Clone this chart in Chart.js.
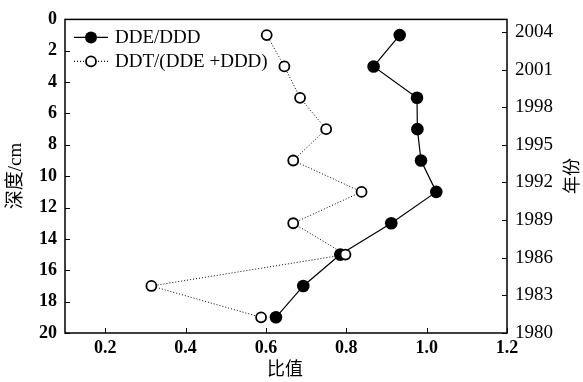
<!DOCTYPE html>
<html lang="zh">
<head>
<meta charset="UTF-8">
<title>DDE/DDD ratio profile</title>
<script src="https://cdn.jsdelivr.net/npm/chart.js@4.4.1/dist/chart.umd.min.js"></script>
<style>
  body { margin: 0; background: #fff; }
  #wrap { width: 583px; height: 382px; }
</style>
</head>
<body>
<div id="wrap"><canvas id="chart" width="583" height="382"></canvas></div>
<script>
// depth of each sample (cm)
const depths = [1, 3, 5, 7, 9, 11, 13, 15, 17, 19];
// ratios
const ddeDdd = [0.933, 0.868, 0.976, 0.977, 0.986, 1.024, 0.912, 0.785, 0.693, 0.625];
const ddtRatio = [0.602, 0.646, 0.685, 0.750, 0.668, 0.838, 0.668, 0.798, 0.315, 0.588];

const xTicks = [0.2, 0.4, 0.6, 0.8, 1.0, 1.2];
const depthTicks = [0, 2, 4, 6, 8, 10, 12, 14, 16, 18, 20];
const yearTicks = [1980, 1983, 1986, 1989, 1992, 1995, 1998, 2001, 2004];

const serif = '"Liberation Serif", "DejaVu Serif", serif';
const cjk = '"Liberation Serif", "Noto Sans CJK SC", serif';

function pts(vals) {
    return depths.map((d, i) => ({ x: vals[i], y: d }));
}

// inward tick marks, outer frame, rotated titles and legend
const decor = {
    id: 'decor',
    afterDraw(chart) {
        const ctx = chart.ctx;
        const a = chart.chartArea;
        const sx = chart.scales.x, sy = chart.scales.y, sy2 = chart.scales.y2;
        ctx.save();
        ctx.strokeStyle = '#000';
        ctx.lineWidth = 1;
        ctx.beginPath();
        xTicks.forEach(v => {
            const px = Math.round(sx.getPixelForValue(v)) + 0.5;
            ctx.moveTo(px, a.bottom); ctx.lineTo(px, a.bottom - 5);
        });
        depthTicks.forEach(v => {
            const py = Math.round(sy.getPixelForValue(v)) + 0.5;
            ctx.moveTo(a.left, py); ctx.lineTo(a.left + 5, py);
        });
        yearTicks.forEach(v => {
            const py = Math.round(sy2.getPixelForValue(v)) + 0.5;
            ctx.moveTo(a.right, py); ctx.lineTo(a.right - 5, py);
        });
        ctx.stroke();

        ctx.lineWidth = 1.5;
        ctx.strokeRect(a.left, a.top, a.right - a.left, a.bottom - a.top);

        // axis titles
        ctx.fillStyle = '#000';
        ctx.font = '18px ' + cjk;
        ctx.textAlign = 'center';
        ctx.textBaseline = 'middle';
        ctx.fillText('比值', 285, 370);
        ctx.save();
        ctx.translate(16, 176);
        ctx.rotate(-Math.PI / 2);
        ctx.font = '19px ' + cjk;
        ctx.fillText('深度/cm', 0, 0);
        ctx.restore();
        ctx.save();
        ctx.translate(573, 176);
        ctx.rotate(-Math.PI / 2);
        ctx.fillText('年份', 0, 0);
        ctx.restore();

        // legend
        const lx = a.left + 9, ly1 = a.top + 18, ly2 = a.top + 42;
        ctx.lineWidth = 1.2;
        ctx.beginPath();
        ctx.moveTo(lx, ly1); ctx.lineTo(lx + 34, ly1);
        ctx.stroke();
        ctx.beginPath();
        ctx.arc(lx + 17, ly1, 6, 0, Math.PI * 2);
        ctx.fill();
        ctx.setLineDash([1, 2]);
        ctx.beginPath();
        ctx.moveTo(lx, ly2); ctx.lineTo(lx + 34, ly2);
        ctx.stroke();
        ctx.setLineDash([]);
        ctx.fillStyle = '#fff';
        ctx.lineWidth = 1.8;
        ctx.beginPath();
        ctx.arc(lx + 17, ly2, 5, 0, Math.PI * 2);
        ctx.fill();
        ctx.stroke();
        ctx.fillStyle = '#000';
        ctx.font = '19px ' + serif;
        ctx.textAlign = 'left';
        ctx.fillText('DDE/DDD', lx + 41, ly1 + 1);
        ctx.fillText('DDT/(DDE +DDD)', lx + 41, ly2 + 1);
        ctx.restore();
    }
};

const tickFont = { family: serif, size: 18, weight: 'bold' };
const noGrid = { display: true, drawOnChartArea: false, drawTicks: false };

new Chart(document.getElementById('chart'), {
    type: 'line',
    data: {
        datasets: [
            {
                label: 'DDT/(DDE +DDD)',
                data: pts(ddtRatio),
                order: 0,
                borderColor: '#000',
                borderWidth: 1,
                borderDash: [1, 2],
                pointRadius: 5,
                pointBorderWidth: 1.8,
                pointBackgroundColor: '#fff',
                pointBorderColor: '#000',
                tension: 0
            },
            {
                label: 'DDE/DDD',
                data: pts(ddeDdd),
                order: 1,
                borderColor: '#000',
                borderWidth: 1.2,
                pointRadius: 6.3,
                pointBorderWidth: 0,
                pointBackgroundColor: '#000',
                pointBorderColor: '#000',
                tension: 0
            }
        ]
    },
    options: {
        responsive: false,
        animation: false,
        layout: { padding: { top: 16, right: 0, bottom: 0, left: 0 } },
        plugins: { legend: { display: false }, tooltip: { enabled: false } },
        scales: {
            x: {
                type: 'linear',
                min: 0.1, max: 1.2,
                afterBuildTicks: s => { s.ticks = xTicks.map(v => ({ value: v })); },
                afterFit: s => { s.height = 49; },
                grid: noGrid,
                border: { display: false },
                ticks: { font: tickFont, color: '#000', padding: 5, maxRotation: 0,
                         callback: v => v.toFixed(1) }
            },
            y: {
                type: 'linear',
                position: 'left',
                reverse: true,
                min: 0, max: 20,
                afterBuildTicks: s => { s.ticks = depthTicks.map(v => ({ value: v })); },
                afterFit: s => { s.width = 65; },
                grid: noGrid,
                border: { display: false },
                ticks: { font: tickFont, color: '#000', padding: 8 }
            },
            y2: {
                type: 'linear',
                position: 'right',
                min: 1980, max: 2005,
                afterBuildTicks: s => { s.ticks = yearTicks.map(v => ({ value: v })); },
                afterFit: s => { s.width = 76; },
                grid: noGrid,
                border: { display: false },
                ticks: { font: { family: serif, size: 19 }, color: '#000', padding: 8,
                         callback: v => String(v) }
            }
        }
    },
    plugins: [decor]
});
</script>
</body>
</html>
